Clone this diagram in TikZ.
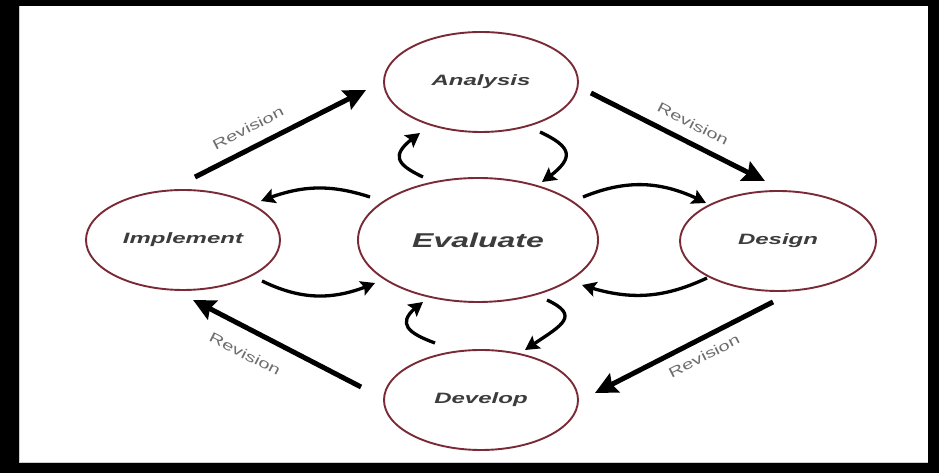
\documentclass[tikz,border=0pt]{standalone}
\usepackage{fontspec}
\newfontfamily\lblfont[FakeStretch=1.6]{Liberation Sans}
\newfontfamily\revfont[FakeStretch=1.45]{Liberation Sans}
\usetikzlibrary{arrows.meta,bending,shapes.geometric}
\definecolor{ringcol}{HTML}{7A2A36}
\definecolor{txtcol}{HTML}{3C3C3C}
\definecolor{revcol}{HTML}{6E6E6E}
\begin{document}
\begin{tikzpicture}[x=1pt,y=1pt,
  stage/.style={ellipse, draw=ringcol, line width=1.9pt, minimum width=194pt, minimum height=100pt,
    inner sep=0pt, text=txtcol, font=\lblfont\bfseries\itshape\fontsize{15}{17}\selectfont},
  bigstage/.style={stage, minimum width=240pt, minimum height=124pt,
    font=\lblfont\bfseries\itshape\fontsize{20}{22}\selectfont},
  revarrow/.style={line width=5pt, -{Stealth[length=22pt,width=21pt,inset=3pt]}},
  cyclearrow/.style={line width=3.3pt, -{Stealth[length=14pt,width=15pt,inset=2.5pt]}},
  revlabel/.style={text=revcol, font=\revfont\fontsize{14}{16}\selectfont, inner sep=0pt}]
\useasboundingbox (0,0) rectangle (939,473);
\fill[black] (0,0) rectangle (939,473);
\fill[white] (19,10) rectangle (928,467);
\draw[gray!40, line width=1pt] (19.5,467) -- (19.5,10.5) -- (928,10.5);

\node[stage] (ana) at (481,391) {Analysis};
\node[bigstage] (ev) at (478,233) {Evaluate};
\node[stage] (impl) at (183,233) {Implement};
\node[stage, minimum width=196pt] (des) at (778,232) {Design};
\node[stage] (dev) at (481,73) {Develop};

% revision arrows
\draw[revarrow] ([shift={(12,12)}]impl.north) -- ([shift={(-17,-8)}]ana.west);
\draw[revarrow] ([shift={(12,-11)}]ana.east) -- ([shift={(-13,9)}]des.north);
\draw[revarrow] ([shift={(-5,-10)}]des.south) -- ([shift={(16,7)}]dev.east);
\draw[revarrow] ([shift={(-22,13)}]dev.west) -- ([shift={(10,-9)}]impl.south);

\node[revlabel, rotate=27] (r1) at (248,345) {Revision};
\node[revlabel, rotate=-27] (r2) at (693,349) {Revision};
\node[revlabel, rotate=27] (r3) at (704,117) {Revision};
\node[revlabel, rotate=-27] (r4) at (245,119) {Revision};

% cycle arrows
\draw[cyclearrow] ([shift={(-108,43)}]ev.center) to[bend right=20] ([shift={(78,39)}]impl.center);
\draw[cyclearrow] ([shift={(79,-41)}]impl.center) to[bend right=25] ([shift={(-103,-43)}]ev.center);
\draw[cyclearrow] ([shift={(105,43)}]ev.center) to[bend left=25] ([shift={(-72,38)}]des.center);
\draw[cyclearrow] ([shift={(-71,-37)}]des.center) to[bend left=22] ([shift={(104,-45)}]ev.center);
\draw[cyclearrow] ([shift={(-55,63)}]ev.center) to[out=155,in=215,looseness=2] ([shift={(-61,-51)}]ana.center);
\draw[cyclearrow] ([shift={(59,-50)}]ana.center) to[out=-25,in=35,looseness=2] ([shift={(64,58)}]ev.center);
\draw[cyclearrow] ([shift={(69,-60)}]ev.center) to[out=-25,in=35,looseness=1.9] ([shift={(44,50)}]dev.center);
\draw[cyclearrow] ([shift={(-46,57)}]dev.center) to[out=160,in=215,looseness=2] ([shift={(-55,-62)}]ev.center);
\end{tikzpicture}
\end{document}
